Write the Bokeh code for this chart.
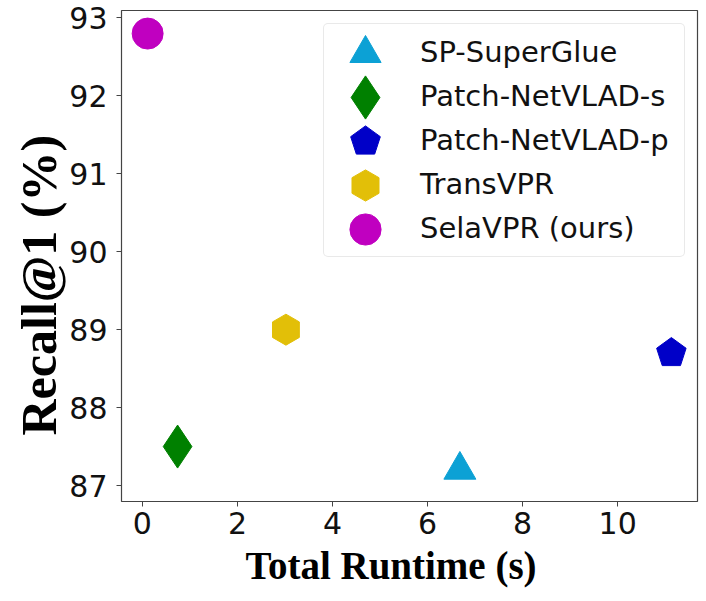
import numpy as np
from bokeh.plotting import figure
from bokeh.models import (FixedTicker, Legend, LegendItem, Title, Range1d, ColumnDataSource)
from bokeh.embed import file_html
from bokeh.resources import INLINE

methods = ["SP-SuperGlue", "Patch-NetVLAD-s", "Patch-NetVLAD-p", "TransVPR", "SelaVPR (ours)"]
runtime = [6.68, 0.74, 11.13, 3.02, 0.11]
recall = [87.2, 87.5, 88.7, 89.0, 92.8]
x_ticks = [0, 2, 4, 6, 8, 10]
y_ticks = [87, 88, 89, 90, 91, 92, 93]

colors = ["#0ca1d5", "#008000", "#0000c8", "#e2bf08", "#c000c0"]
markers = ["triangle", "diamond", "ngon5", "ngon6", "circle"]
sizes = [32, 43, 31, 31, 31]          # marker sizes in px
legend_sizes = [31, 43, 31, 31, 31]

W, H = 700, 597
FL, FT, FR, FB = 121, 10, 697, 501     # frame edges in canvas px
FW, FH = FR - FL, FB - FT

p = figure(width=W, height=H,
           x_range=Range1d(-0.44, 11.68), y_range=Range1d(86.795, 93.096),
           output_backend="svg", toolbar_location=None,
           min_border_left=FL, min_border_right=W - FR, min_border_top=FT,
           min_border_bottom=H - FB)

p.xgrid.visible = False
p.ygrid.visible = False
p.outline_line_color = "#444444"
p.outline_line_width = 1.2
p.background_fill_color = "white"
p.border_fill_color = "white"

for ax, ticks in ((p.xaxis, x_ticks), (p.yaxis, y_ticks)):
    ax.ticker = FixedTicker(ticks=ticks)
    ax.axis_line_color = None
    ax.major_tick_line_color = "#444444"
    ax.major_tick_out = 5
    ax.major_tick_in = 0
    ax.minor_tick_line_color = None
    ax.major_label_text_font = "DejaVu Sans"
    ax.major_label_text_font_size = "30px"
    ax.major_label_text_color = "#111111"
p.xaxis.major_label_standoff = 5
p.yaxis.major_label_standoff = 9

renderers = []
for i in range(len(methods)):
    src = ColumnDataSource(dict(x=[runtime[i]], y=[recall[i]]))
    if markers[i].startswith("ngon"):
        r = p.ngon(x="x", y="y", radius=sizes[i] / 2, radius_units="screen",
                   n=int(markers[i][4:]), angle=0,
                   source=src, fill_color=colors[i], line_color=colors[i])
    else:
        r = p.scatter(x="x", y="y", marker=markers[i], size=sizes[i], source=src,
                      fill_color=colors[i], line_color=colors[i])
    renderers.append(r)

# legend box with labels
BOX_X, BOX_TOP, BOX_H = 202, 15, 232
ROW0, PITCH = 6 + 22, 44
main_legend = Legend(items=[LegendItem(label=m, renderers=[r]) for m, r in zip(methods, renderers)],
                     location=(BOX_X, FH - BOX_TOP - BOX_H),
                     padding=dict(left=6, right=15, top=6, bottom=6),
                     glyph_width=72, glyph_height=44, label_height=44, spacing=0,
                     label_standoff=18,
                     label_text_font="DejaVu Sans", label_text_font_size="29px",
                     label_text_color="#111111",
                     border_line_color="#d4d4d4", border_line_width=1.2, border_radius=5,
                     background_fill_alpha=0.8)
p.add_layout(main_legend)

# bigger legend glyphs overlaid on each row (no visible label)
for i, r in enumerate(renderers):
    g = int(round(legend_sizes[i] / 0.4))
    cy = BOX_TOP + ROW0 + PITCH * i
    ov = Legend(items=[LegendItem(label=" ", renderers=[r])],
                location=(BOX_X + 42 - g // 2, FH - cy - g // 2),
                padding=0, glyph_width=g, glyph_height=g, label_height=g, spacing=0,
                label_standoff=0, label_text_alpha=0, label_text_font_size="2px",
                border_line_color=None, background_fill_alpha=0)
    p.add_layout(ov)

ylab = Title(text="Recall@1 (%)", align="left", offset=66, standoff=0,
             text_font="Liberation Serif", text_font_style="bold", text_font_size="50px",
             text_color="black")
p.add_layout(ylab, "left")
xlab = Title(text="Total Runtime (s)", align="left", offset=124, standoff=10,
             text_font="Liberation Serif", text_font_style="bold", text_font_size="39px",
             text_color="black")
p.add_layout(xlab, "below")

open("out.html", "w").write(file_html(p, INLINE))
